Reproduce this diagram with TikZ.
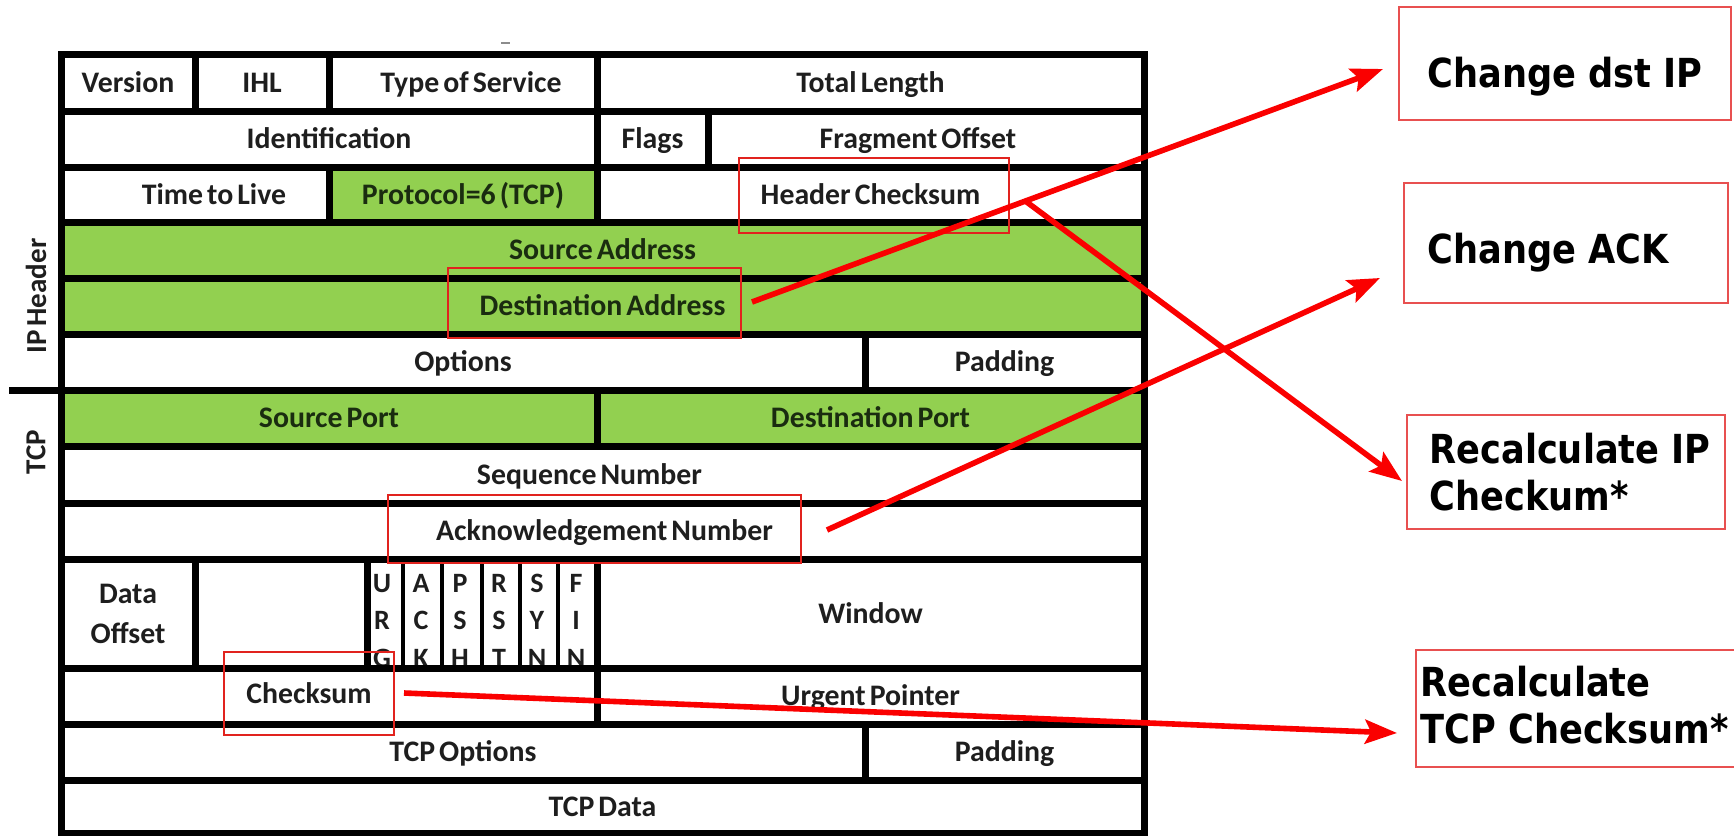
\documentclass[tikz,border=0pt]{standalone}
\usepackage{fontspec}
\setmainfont{Carlito}[WordSpace=0.6]
\newfontfamily\notefont{DejaVu Sans}[FakeStretch=0.88]
\usetikzlibrary{arrows.meta}

\definecolor{fieldgreen}{RGB}{146,208,80}
\definecolor{inkgray}{RGB}{30,30,30}
\definecolor{inkgreen}{RGB}{26,44,16}
\definecolor{markred}{RGB}{225,35,30}
\definecolor{noteline}{RGB}{232,80,80}
\definecolor{arrowred}{RGB}{250,0,0}

% rectangle node given by its two corners (in pixel units)
\newcommand\rectnode[7][]{%
  \node[#1,minimum width={(#5-#3)*0.5pt},minimum height={(#6-#4)*0.5pt}]
    (#2) at ({(#3+#5)/2},{(#4+#6)/2}) {#7};}

\tikzset{
  cellbase/.style={draw=black, line width=3.5pt, inner sep=0pt, text=inkgray,
    font=\bfseries\fontsize{14.9pt}{18pt}\selectfont},
  cell/.style={cellbase, text height=9.6pt, text depth=0pt},
  greencell/.style={fill=fieldgreen, text=inkgreen},
  flagrule/.style={cellbase, line width=2.4pt},
  flagtxt/.style={inner sep=0pt, text=inkgray, anchor=base,
    font=\bfseries\fontsize{14pt}{16pt}\selectfont},
  sidelabel/.style={inner sep=0pt, rotate=90, text=inkgray,
    font=\bfseries\fontsize{14.5pt}{17pt}\selectfont},
  markbox/.style={draw=markred, line width=1.2pt, inner sep=0pt, text=inkgray,
    font=\bfseries\fontsize{14.9pt}{18pt}\selectfont, text height=9.6pt, text depth=0pt},
  notebox/.style={draw=noteline, line width=1.3pt, inner sep=0pt},
  notetext/.style={inner sep=0pt, text=black, align=left, anchor=base west,
    font=\notefont\bfseries\fontsize{20pt}{23.5pt}\selectfont},
  arr/.style={draw=arrowred, line width=2.8pt,
    -{Stealth[length=16pt,width=12pt,inset=3pt]}},
}

\begin{document}
\begin{tikzpicture}[x=0.5pt,y=-0.5pt]
\useasboundingbox (0,0) rectangle (1734,835);

% ---------------- IP header ----------------
\rectnode[cell]{ver}{61}{54}{195}{111}{Version}
\rectnode[cell]{ihl}{195}{54}{329}{111}{IHL}
\rectnode[cell]{tos}{329}{54}{597}{111}{\hspace*{8pt}Type of Service}
\rectnode[cell]{tlen}{597}{54}{1144}{111}{Total Length}

\rectnode[cell]{ident}{61}{111}{597}{167}{Identification}
\rectnode[cell]{ipflags}{597}{111}{708}{167}{Flags}
\rectnode[cell]{frag}{708}{111}{1144}{167}{Fragment Offset\hspace*{8pt}}

\rectnode[cell]{ttl}{61}{167}{329}{222}{\hspace*{19pt}Time to Live}
\rectnode[cell,greencell]{proto}{329}{167}{597}{222}{Protocol=6 (TCP)}
\rectnode[cell]{hcs}{597}{167}{1144}{222}{Header Checksum}

\rectnode[cell,greencell]{srcaddr}{61}{222}{1144}{278}{Source Address}
\rectnode[cell,greencell]{dstaddr}{61}{278}{1144}{334}{Destination Address}

\rectnode[cell]{ipopts}{61}{334}{865}{390}{Options}
\rectnode[cell]{ippad}{865}{334}{1144}{390}{Padding}

% ---------------- TCP header ----------------
\rectnode[cell,greencell]{sport}{61}{390}{597}{446}{Source Port}
\rectnode[cell,greencell]{dport}{597}{390}{1144}{446}{Destination Port}

\rectnode[cell]{seq}{61}{446}{1144}{503}{Sequence Number\hspace*{13pt}}
\rectnode[cell]{ack}{61}{503}{1144}{559}{Acknowledgement Number\hspace*{-2pt}}

\rectnode[cellbase,align=center]{doff}{61}{559}{195}{668}{Data\\[2pt]Offset}
\rectnode[cell]{rsv}{195}{559}{367}{668}{}
\rectnode[flagrule]{furg}{367}{559}{403}{668}{}
\rectnode[flagrule]{fack}{403}{559}{442}{668}{}
\rectnode[flagrule]{fpsh}{442}{559}{482}{668}{}
\rectnode[flagrule]{frst}{482}{559}{520}{668}{}
\rectnode[flagrule]{fsyn}{520}{559}{558}{668}{}
\rectnode[flagrule]{ffin}{558}{559}{597}{668}{}
\rectnode[cell]{win}{597}{559}{1144}{668}{Window}

% flag letters, one per line inside each flag column
\foreach \x/\a/\b/\c [count=\i] in
  {382/U/R/G, 421/A/C/K, 460/P/S/H, 499/R/S/T, 537/S/Y/N, 576/F/I/N}{
  \node[flagtxt] (flag\i a) at (\x,592) {\a};
  \node[flagtxt] (flag\i b) at (\x,629) {\b};
  \node[flagtxt] (flag\i c) at (\x,667) {\c};
}

\rectnode[cell]{tcpck}{61}{668}{597}{724}{}
\rectnode[cell]{urgptr}{597}{668}{1144}{724}{Urgent Pointer}

\rectnode[cell]{tcpopts}{61}{724}{865}{780}{TCP Options}
\rectnode[cell]{tcppad}{865}{724}{1144}{780}{Padding}

\rectnode[cell]{tcpdata}{61}{780}{1144}{833}{TCP Data}

% ---------------- side labels and divider ----------------
\node[sidelabel] (iplabel) at (36,296) {IP Header};
\node[sidelabel] (tcplabel) at (36,452) {TCP};
\coordinate (divleft) at (9,390);
\coordinate (divright) at (61,390);
\draw[line width=3.5pt] (divleft) -- (divright);

% small mark above the table
\draw[black!45, line width=1pt] (501,43) -- (510,43);

% ---------------- highlighted fields ----------------
\rectnode[markbox]{mkhc}{739}{158}{1009}{233}{}
\rectnode[markbox]{mkdst}{448}{268}{741}{338}{}
\rectnode[markbox]{mkack}{388}{495}{801}{563}{}
\rectnode[markbox]{mkck}{224}{652}{394}{735}{Checksum}

% ---------------- notes on the right ----------------
\rectnode[notebox]{noteA}{1399}{7}{1731}{120}{}
\rectnode[notebox]{noteB}{1404}{183}{1728}{303}{}
\rectnode[notebox]{noteC}{1407}{415}{1725}{529}{}
\rectnode[notebox]{noteD}{1416}{650}{1745}{767}{}

% multi-line labels are anchored at the baseline of their last line
\node[notetext] (noteAtxt) at (1427,87) {Change dst IP};
\node[notetext] (noteBtxt) at (1427,263) {Change ACK};
\node[notetext] (noteCtxt) at (1429,510) {Recalculate IP\\Checkum*};
\node[notetext] (noteDtxt) at (1420,743) {Recalculate\\TCP Checksum*};

% ---------------- arrows ----------------
\coordinate (s1) at (752,302);
\coordinate (t1) at (1383,69);
\coordinate (s2) at (1024,200);
\coordinate (t2) at (1402,481);
\coordinate (s3) at (827,530);
\coordinate (t3) at (1380,278);
\coordinate (s4) at (404,693);
\coordinate (t4) at (1397,733);

\draw[arr] (s1) -- (t1);
\draw[arr] (s2) -- (t2);
\draw[arr] (s3) -- (t3);
\draw[arr] (s4) -- (t4);
\end{tikzpicture}
\end{document}
